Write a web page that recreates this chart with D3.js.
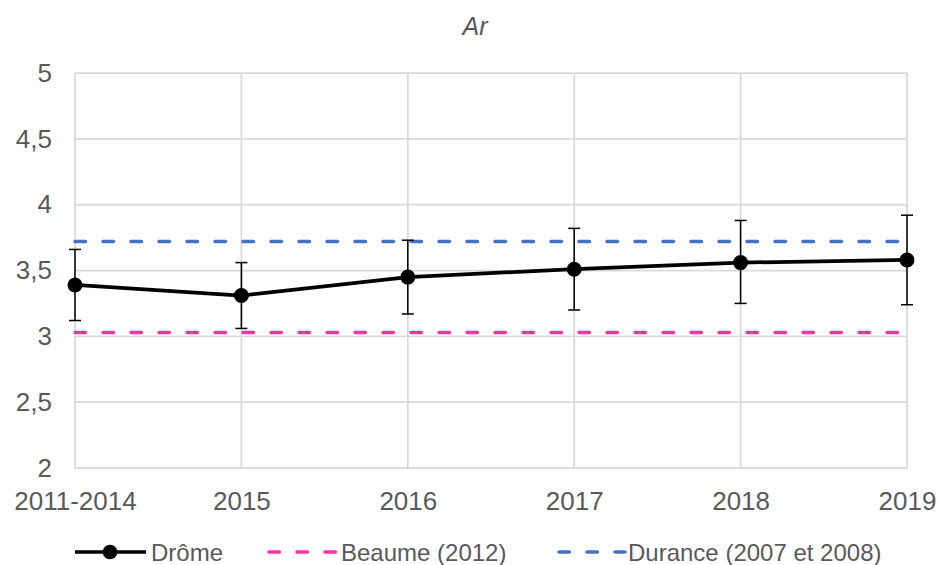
<!DOCTYPE html>
<html><head><meta charset="utf-8">
<script src="https://cdn.jsdelivr.net/npm/d3@7"></script>
<style>body{margin:0;background:#fff}svg{display:block}text{font-family:"Liberation Sans",Arial,sans-serif}</style>
</head><body>
<svg id="c" width="939" height="565"></svg>
<script>
const categories = ["2011-2014","2015","2016","2017","2018","2019"];
const drome = [3.39, 3.31, 3.45, 3.51, 3.56, 3.58];
const dromeHigh = [3.66, 3.56, 3.73, 3.82, 3.88, 3.92];
const dromeLow = [3.12, 3.06, 3.17, 3.20, 3.25, 3.24];
const beaume = 3.03;
const durance = 3.72;
const yTicks = [2, 2.5, 3, 3.5, 4, 4.5, 5];
const title = "Ar";
const legendLabels = ["Drôme", "Beaume (2012)", "Durance (2007 et 2008)"];

const svg = d3.select("#c");
const L = 75, R = 907, T = 73, B = 468;
const x = d3.scalePoint().domain(categories).range([L, R]).padding(0);
const y = d3.scaleLinear().domain([2, 5]).range([B, T]);
const fmt = d => String(d).replace(".", ",");
const grey = "#595959", grid = "#d9d9d9";
const FONT = "Liberation Sans, Arial, sans-serif";
const dash = "10.5,17.5";

// gridlines
svg.append("g").selectAll("line").data(yTicks).join("line")
  .attr("x1", L).attr("x2", R).attr("y1", d => y(d)).attr("y2", d => y(d))
  .attr("stroke", grid).attr("stroke-width", 1.75);
svg.append("g").selectAll("line").data(categories).join("line")
  .attr("x1", d => x(d)).attr("x2", d => x(d)).attr("y1", T).attr("y2", B)
  .attr("stroke", grid).attr("stroke-width", 1.75);

// y axis labels
const yAxis = d3.axisLeft(y).tickValues(yTicks).tickFormat(fmt).tickSize(0).tickPadding(23);
const gy = svg.append("g").attr("transform", `translate(${L},0)`).call(yAxis);
gy.select(".domain").remove();
gy.selectAll("text").attr("fill", grey).attr("font-size", 26).attr("font-family", FONT);

// x axis labels
const xAxis = d3.axisBottom(x).tickSize(0).tickPadding(24);
const gx = svg.append("g").attr("transform", `translate(0,${B})`).call(xAxis);
gx.select(".domain").remove();
gx.selectAll("text").attr("fill", grey).attr("font-size", 26).attr("font-family", FONT);

// reference lines
svg.append("line").attr("x1", L).attr("x2", R).attr("y1", y(beaume)).attr("y2", y(beaume))
  .attr("stroke", "#ff3399").attr("stroke-width", 3.5).attr("stroke-dasharray", dash).attr("stroke-linecap", "round");
svg.append("line").attr("x1", L).attr("x2", R).attr("y1", y(durance)).attr("y2", y(durance))
  .attr("stroke", "#4472c4").attr("stroke-width", 3.5).attr("stroke-dasharray", dash).attr("stroke-linecap", "round");

// error bars
const eb = svg.append("g").attr("stroke", "#000").attr("stroke-width", 1.5);
categories.forEach((c, i) => {
  eb.append("line").attr("x1", x(c)).attr("x2", x(c)).attr("y1", y(dromeLow[i])).attr("y2", y(dromeHigh[i]));
  eb.append("line").attr("x1", x(c) - 6).attr("x2", x(c) + 6).attr("y1", y(dromeLow[i])).attr("y2", y(dromeLow[i]));
  eb.append("line").attr("x1", x(c) - 6).attr("x2", x(c) + 6).attr("y1", y(dromeHigh[i])).attr("y2", y(dromeHigh[i]));
});

// Drôme line
svg.append("path").datum(drome)
  .attr("d", d3.line().x((d, i) => x(categories[i])).y(d => y(d)))
  .attr("fill", "none").attr("stroke", "#000").attr("stroke-width", 3.75);
svg.append("g").selectAll("circle").data(drome).join("circle")
  .attr("cx", (d, i) => x(categories[i])).attr("cy", d => y(d)).attr("r", 7.5).attr("fill", "#000");

// title
svg.append("text").attr("x", 475).attr("y", 35).attr("text-anchor", "middle")
  .attr("font-size", 25).attr("font-style", "italic").attr("fill", grey).text(title);

// legend
const ly = 552;
const lg = svg.append("g");
lg.append("line").attr("x1", 75).attr("x2", 146).attr("y1", ly).attr("y2", ly).attr("stroke", "#000").attr("stroke-width", 3.5);
lg.append("circle").attr("cx", 110).attr("cy", ly).attr("r", 7.3).attr("fill", "#000");
lg.append("text").attr("x", 151).attr("y", ly + 8.5).attr("font-size", 24).attr("fill", grey).text(legendLabels[0]);
lg.append("line").attr("x1", 269).attr("x2", 338).attr("y1", ly).attr("y2", ly).attr("stroke", "#ff3399")
  .attr("stroke-width", 3.5).attr("stroke-dasharray", dash).attr("stroke-linecap", "round");
lg.append("text").attr("x", 341).attr("y", ly + 8.5).attr("font-size", 24).attr("fill", grey).text(legendLabels[1]);
lg.append("line").attr("x1", 559).attr("x2", 625).attr("y1", ly).attr("y2", ly).attr("stroke", "#4472c4")
  .attr("stroke-width", 3.5).attr("stroke-dasharray", dash).attr("stroke-linecap", "round");
lg.append("text").attr("x", 628).attr("y", ly + 8.5).attr("font-size", 24).attr("fill", grey).text(legendLabels[2]);
</script>
</body></html>
